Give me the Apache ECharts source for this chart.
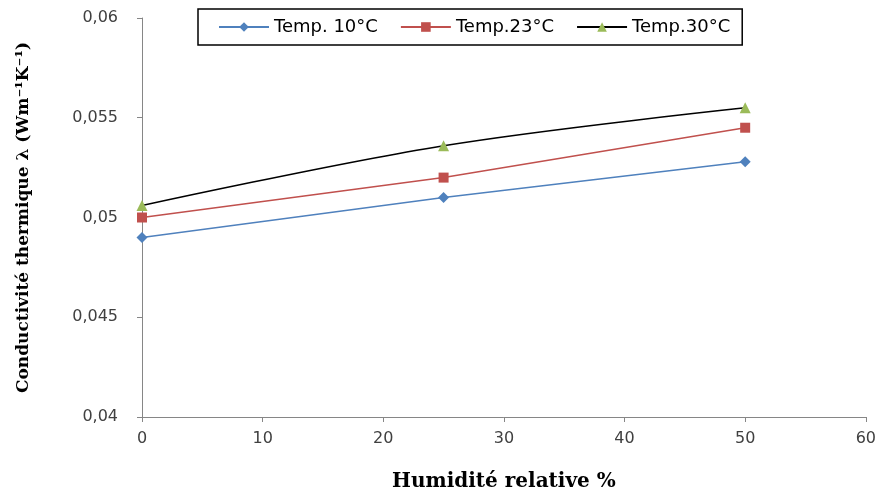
<!DOCTYPE html>
<html>
<head>
<meta charset="utf-8">
<script src="https://cdn.jsdelivr.net/npm/echarts@6/dist/echarts.min.js"></script>
<style>html,body{margin:0;padding:0;background:#fff}#c{width:879px;height:497px}</style>
</head>
<body>
<div id="c"></div>
<script>
const humidity = [0, 25, 50];
const temp10 = [0.0490, 0.0510, 0.0528];
const temp23 = [0.0500, 0.0520, 0.0545];
const temp30 = [0.0506, 0.0536, 0.0555];
const seriesNames = ['Temp. 10°C', 'Temp.23°C', 'Temp.30°C'];
const yTickLabels = ['0,04', '0,045', '0,05', '0,055', '0,06'];
const xTickLabels = ['0', '10', '20', '30', '40', '50', '60'];

const pairs = arr => humidity.map((h, i) => [h, arr[i]]);
const chart = echarts.init(document.getElementById('c'), null, {renderer: 'canvas'});
const axisGray = '#868686';
const labelFont = {fontFamily: 'DejaVu Sans', fontSize: 16, color: '#404040'};

chart.setOption({
  animation: false,
  backgroundColor: '#fff',
  grid: {left: 142, right: 13, top: 18, bottom: 75, containLabel: false},
  legend: {
    left: 198, top: 9,
    padding: [9, 12, 9, 20],
    borderColor: '#000', borderWidth: 1.5,
    itemWidth: 50, itemHeight: 12, itemGap: 22,
    textStyle: {fontFamily: 'DejaVu Sans', fontSize: 18, color: '#000'},
    data: seriesNames
  },
  xAxis: {
    type: 'value', min: 0, max: 60, interval: 10,
    name: 'Humidité relative %', nameLocation: 'middle', nameGap: 55,
    nameTextStyle: {fontFamily: 'DejaVu Serif', fontWeight: 'bold', fontSize: 20, color: '#000'},
    axisLine: {show: true, lineStyle: {color: axisGray, width: 1}},
    axisTick: {show: true, inside: false, length: 5, lineStyle: {color: axisGray}},
    axisLabel: Object.assign({margin: 14, formatter: (v, i) => xTickLabels[i]}, labelFont),
    splitLine: {show: false}
  },
  yAxis: {
    type: 'value', min: 0.04, max: 0.06, interval: 0.005,
    name: 'Conductivité thermique λ (Wm⁻¹K⁻¹)', nameLocation: 'middle', nameGap: 110, nameRotate: 90,
    nameTextStyle: {fontFamily: 'DejaVu Serif', fontWeight: 'bold', fontSize: 17, color: '#000'},
    axisLine: {show: true, lineStyle: {color: axisGray, width: 1}},
    axisTick: {show: true, inside: false, length: 5, lineStyle: {color: axisGray}},
    axisLabel: Object.assign({margin: 24, formatter: (v, i) => yTickLabels[i]}, labelFont),
    splitLine: {show: false}
  },
  series: [
    {
      name: seriesNames[0], type: 'line', data: pairs(temp10),
      symbol: 'diamond', symbolSize: 11,
      lineStyle: {color: '#4F81BD', width: 1.5},
      itemStyle: {color: '#4F81BD'}
    },
    {
      name: seriesNames[1], type: 'line', data: pairs(temp23),
      symbol: 'rect', symbolSize: 10,
      lineStyle: {color: '#C0504D', width: 1.5},
      itemStyle: {color: '#C0504D'}
    },
    {
      name: seriesNames[2], type: 'line', data: pairs(temp30), smooth: 0.35,
      symbol: 'triangle', symbolSize: 11,
      lineStyle: {color: '#000', width: 1.5},
      itemStyle: {color: '#9BBB59'}
    }
  ]
});
</script>
</body>
</html>
